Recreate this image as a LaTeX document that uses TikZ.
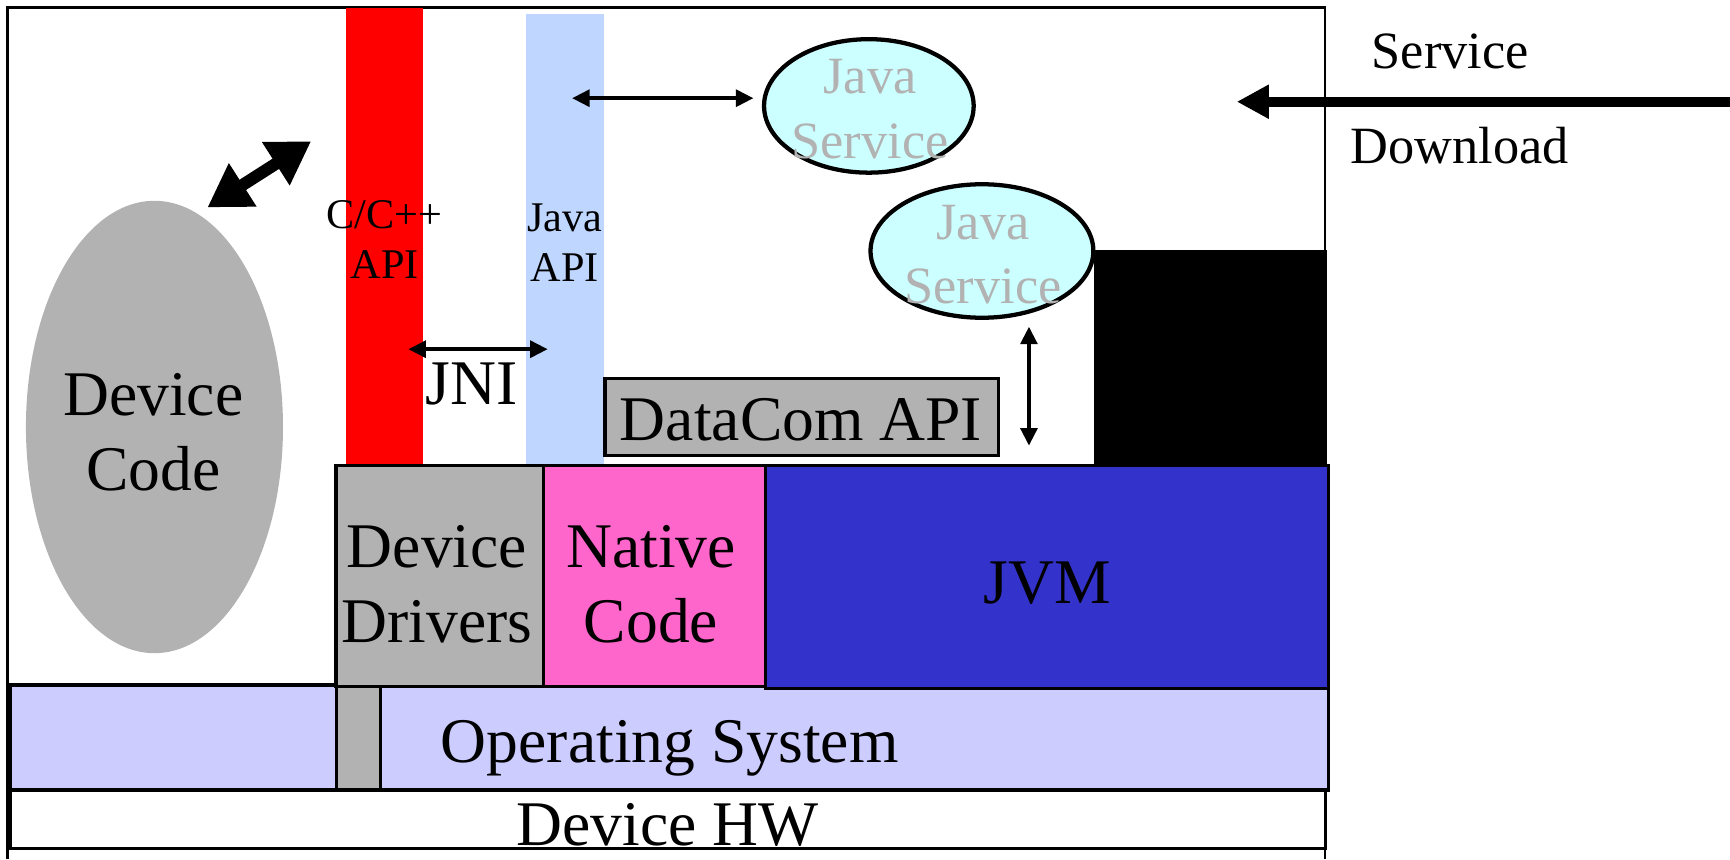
\documentclass[tikz,border=0pt]{standalone}
\usepackage{xcolor}
\usepackage{fontspec}
\setmainfont{Liberation Serif}
\usetikzlibrary{shapes.geometric, arrows.meta}

\definecolor{midgray}{HTML}{B2B2B2}
\definecolor{nativepink}{HTML}{FF66CC}
\definecolor{jvmblue}{HTML}{3333CC}
\definecolor{oslilac}{HTML}{CCCCFF}
\definecolor{apiblue}{HTML}{BFD7FF}
\definecolor{servicecyan}{HTML}{CCFFFF}

\newcommand{\labbig}{\fontsize{16.4}{19.4}\selectfont}
\newcommand{\labmid}{\fontsize{13.5}{16.6}\selectfont}
\newcommand{\labsmall}{\fontsize{10.9}{12.8}\selectfont}

\begin{document}
\begin{tikzpicture}[x=0.1mm, y=-0.1mm,
        box/.style={draw, line width=0.9pt, inner sep=0pt},
        bar/.style={inner sep=0pt, minimum width=7mm},
        service/.style={ellipse, draw, line width=1.1pt, fill=servicecyan, inner sep=0pt, minimum height=12.1mm},
        txt/.style={align=center, inner sep=0pt},
        link/.style={line width=1.1pt, {Triangle[length=1.6mm,width=1.5mm]}-{Triangle[length=1.6mm,width=1.5mm]}},
        fatlink/.style={line width=1.1mm, {Triangle[length=3.8mm,width=4.4mm]}-{Triangle[length=3.8mm,width=4.4mm]}},
        download/.style={line width=0.9mm, -{Triangle[length=2.9mm,width=2.9mm]}}]

    \useasboundingbox (0,0) rectangle (1568,779);
    \draw[line width=0.7pt] (7,779) -- (7,7) -- (1201,7) -- (1201,779);

    % API bars
    \node[bar, fill=red, minimum height=41.45mm] (cpp) at (348.6,214.2) {};
    \node[bar, fill=apiblue, minimum height=40.9mm] (japi) at (512,217.1) {};
    \node[txt, font=\labsmall] (cpptxt) at (348.6,217) {C/C++\\API};
    \node[txt, font=\labsmall] (japitxt) at (511.7,220) {Java\\API};

    % device code
    \node[ellipse, fill=midgray, inner sep=0pt, minimum width=23.3mm, minimum height=41mm] (devcode) at (140,387) {};
    \node[txt, font=\labbig] (devcodetxt) at (139,392) {Device\\Code};

    % java services
    \node[service, minimum width=19mm] (svc1) at (787.5,96) {};
    \node[txt, font=\labmid, text=midgray] (svc1txt) at (788.6,99) {Java\\Service};
    \node[service, minimum width=20.2mm] (svc2) at (890,227.5) {};
    \node[txt, font=\labmid, text=midgray] (svc2txt) at (891,230.5) {Java\\Service};

    \node[fill=black, inner sep=0pt, minimum width=21.1mm, minimum height=19.45mm] (dlbox) at (1097,324.2) {};

    \node[box, fill=midgray, minimum width=35.7mm, minimum height=7mm] (datacom) at (726.7,378) {};
    \node[font=\labbig, anchor=base] (datacomtxt) at (726,399.5) {DataCom API};

    % layers
    \node[box, fill=oslilac, minimum width=119.45mm, minimum height=9.5mm] (os) at (606.7,668.5) {};
    \node[box, fill=midgray, minimum width=4mm, minimum height=9.5mm] (osgap) at (325,668.5) {};
    \node[box, fill=midgray, minimum width=18.8mm, minimum height=20mm] (drivers) at (398.5,522) {};
    \node[box, fill=nativepink, minimum width=20.15mm, minimum height=20mm] (native) at (593.3,522) {};
    \node[box, fill=jvmblue, minimum width=51mm, minimum height=20.2mm] (jvm) at (949,523) {};
    \node[box, fill=white, minimum width=119.2mm, minimum height=5.3mm] (hw) at (605.5,742.5) {};

    \node[txt, font=\labbig] (driverstxt) at (396,529.5) {Device\\Drivers};
    \node[txt, font=\labbig] (nativetxt) at (590,529.5) {Native\\Code};
    \node[font=\labbig, anchor=base] (jvmtxt) at (949,547) {JVM};
    \node[font=\labbig, anchor=base] (ostxt) at (607,691) {Operating System};
    \node[font=\labbig, anchor=base] (hwtxt) at (605,766) {Device HW};
    \node[font=\labbig, anchor=base] (jnitxt) at (427.5,367) {JNI};
    \node[font=\labmid, anchor=base] (svcword) at (1314.5,62) {Service};
    \node[font=\labmid, anchor=base] (dlword) at (1323,148) {Download};

    % arrow ends
    \coordinate (dcport) at (188,188);
    \coordinate (cppport) at (282,128);
    \coordinate (jniL) at (370,316.5);
    \coordinate (jniR) at (496.5,316.5);
    \coordinate (japiport) at (518.4,89);
    \coordinate (svc1port) at (683,89);
    \coordinate (svc2port) at (932.6,296);
    \coordinate (dataport) at (932.6,404);
    \coordinate (dlsrc) at (1568,92.2);
    \coordinate (dltip) at (1121,92.2);

    \path[link]
    (jniL) edge (jniR)
    (japiport) edge (svc1port)
    (svc2port) edge (dataport);
    \path[fatlink] (dcport) edge (cppport);
    \path[download] (dlsrc) edge (dltip);

\end{tikzpicture}
\end{document}
